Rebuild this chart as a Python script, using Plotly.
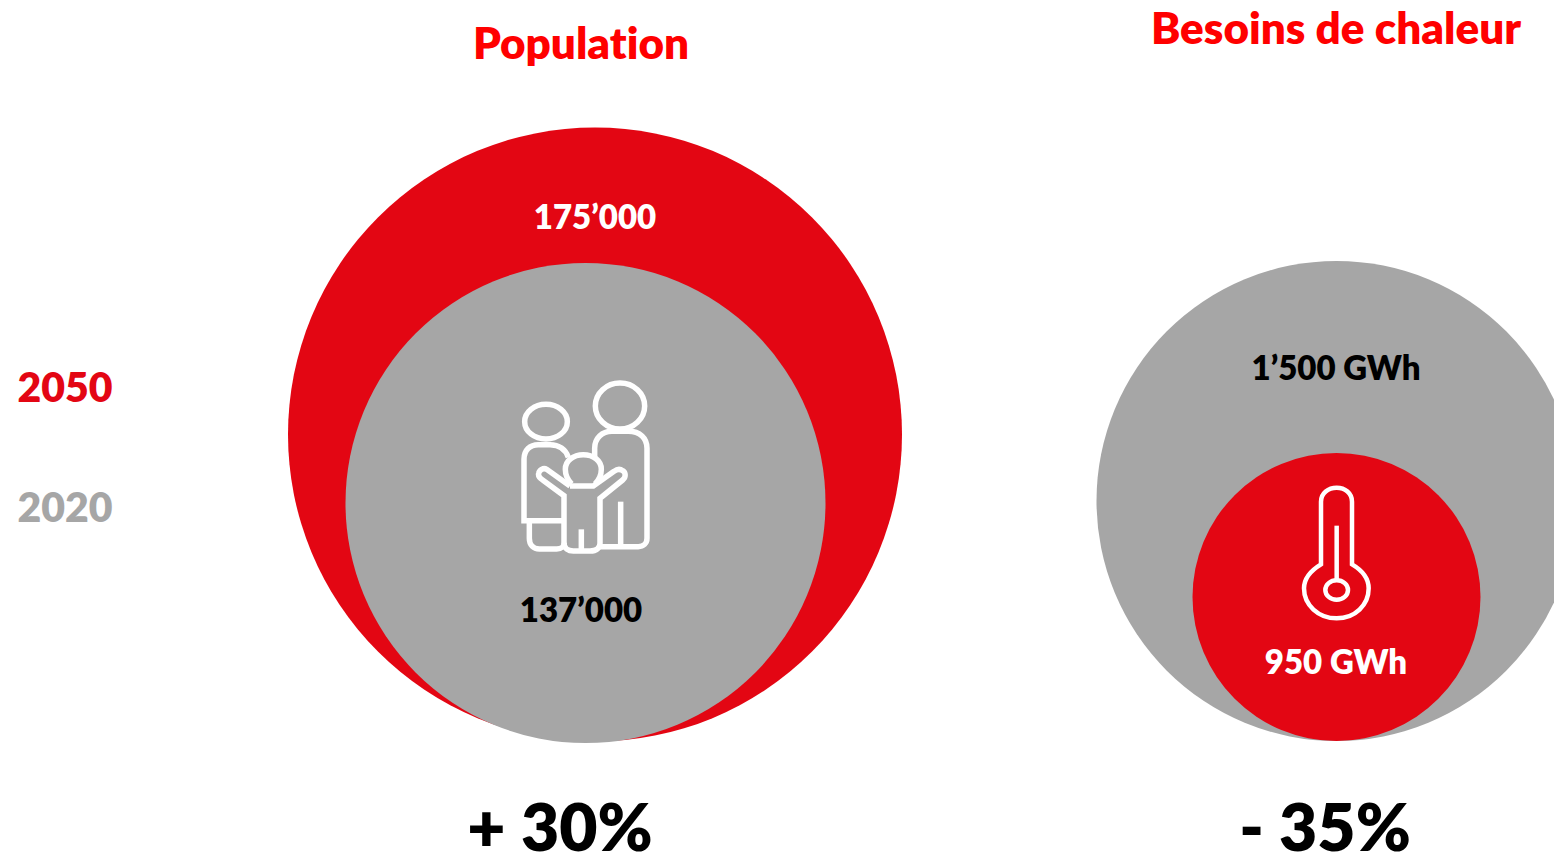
import re
import plotly.graph_objects as go

RED = "#e30613"
GRAY = "#a6a6a6"
TITLE_RED = "#ff0000"
FONT = "Lato"

# Circles: centres and diameters
circle_labels = ["Population 2050", "Population 2020", "Chaleur 2020", "Chaleur 2050"]
circle_x = [595, 585.5, 1336.5, 1336.5]
circle_y = [434.5, 503, 501, 597]
circle_diam = [614, 480, 480, 288]
circle_col = [RED, GRAY, GRAY, RED]

# Text groups
title_text = ["Population", "Besoins de chaleur"]
title_x = [581, 1336]
title_y = [48, 33]
year_text = ["2050", "2020"]
year_x = [65, 65]
year_y = [392, 512]
year_col = [RED, GRAY]
white_text = ["175’000", "950 GWh"]
white_x = [595, 1336]
white_y = [221, 666]
black_text = ["137’000", "1’500 GWh"]
black_x = [581, 1336]
black_y = [614, 372]
delta_text = ["+ 30%", "- 35%"]
delta_x = [560, 1325]
delta_y = [834, 834]

fig = go.Figure()
fig.add_trace(go.Scatter(x=circle_x, y=circle_y, mode="markers", text=circle_labels,
                         marker=dict(size=circle_diam, color=circle_col, opacity=1, line=dict(width=0)),
                         hoverinfo="text", cliponaxis=True))


def txt(x, y, t, size, color):
    fig.add_trace(go.Scatter(x=x, y=y, text=t, mode="text", textposition="middle center",
                             textfont=dict(family=FONT, size=size, color=color, weight=800),
                             hoverinfo="skip"))


txt(title_x, title_y, title_text, 44, TITLE_RED)
txt(year_x, year_y, year_text, 41, year_col)
txt(white_x, white_y, white_text, 33, "#ffffff")
txt(black_x, black_y, black_text, 33, "#000000")
txt(delta_x, delta_y, delta_text, 66, "#000000")


def icon(path, ox, oy, width=5.5):
    """Icon outline given in 3x crop coordinates, placed at offset (ox, oy)."""
    toks = re.findall(r"[MLCQZ]|-?\d+\.?\d*", path)
    out, isx = [], True
    for tk in toks:
        if tk.isalpha():
            out.append(tk)
            isx = True
        else:
            v = float(tk) / 3 + (ox if isx else oy)
            out.append(f"{v:.2f}")
            isx = not isx
    fig.add_shape(type="path", path=" ".join(out), xref="x", yref="y",
                  line=dict(color="#ffffff", width=width), layer="above")


def ell(cx, cy, rx, ry):
    k = 0.5523
    return (f"M {cx-rx} {cy} C {cx-rx} {cy-k*ry} {cx-k*rx} {cy-ry} {cx} {cy-ry} "
            f"C {cx+k*rx} {cy-ry} {cx+rx} {cy-k*ry} {cx+rx} {cy} "
            f"C {cx+rx} {cy+k*ry} {cx+k*rx} {cy+ry} {cx} {cy+ry} "
            f"C {cx-k*rx} {cy+ry} {cx-rx} {cy+k*ry} {cx-rx} {cy} Z")


# Family icon
FO = (500, 370)
icon(ell(360, 108, 74, 69), *FO)
icon(ell(138, 155, 64, 52), *FO)
# adult right body
icon("M 284 262 L 284 235 C 284 205 306 184 336 184 L 385 184 C 420 184 441 205 441 235 "
     "L 441 505 C 441 520 430 530 415 530 L 300 530", *FO)
icon("M 362 395 L 362 530", *FO)
# adult left body
icon("M 205 262 C 197 238 177 224 150 224 L 115 224 C 90 224 72 240 72 268 L 72 452 L 190 452", *FO)
icon("M 88 452 L 88 505 C 88 525 100 537 118 537 L 170 537 C 185 537 193 528 193 518", *FO)
# child
icon("M 215 342 C 203 330 196 315 196 298 C 196 272 220 254 250 254 C 280 254 304 272 304 298 "
     "C 304 315 297 330 285 342", *FO)
icon("M 210 348 L 140 298 C 130 292 118 300 116 310 C 114 318 120 325 128 330 L 192 377 "
     "L 192 520 C 192 535 205 543 220 543 L 270 543 C 290 543 300 533 300 520 L 300 385 "
     "L 368 330 C 378 322 378 308 368 302 C 360 296 350 298 342 304 L 280 348 L 210 348", *FO)
icon("M 244 478 L 244 543", *FO)

# Thermometer icon
TO = (1280, 475)
icon("M 123 268 L 123 80 C 123 55 145 38 170 38 C 195 38 216 55 216 80 L 216 268 "
     "C 245 285 266 310 266 340 C 266 390 225 430 170 430 C 115 430 72 390 72 340 "
     "C 72 310 95 285 123 268 Z", *TO, width=4.5)
icon(ell(170, 345, 34, 29), *TO, width=4.5)
icon("M 170 152 L 170 317", *TO, width=4.5)

fig.update_layout(
    width=1554, height=853, margin=dict(l=0, r=0, t=0, b=0),
    paper_bgcolor="#ffffff", plot_bgcolor="#ffffff", showlegend=False,
    xaxis=dict(range=[0, 1554], visible=False, fixedrange=True),
    yaxis=dict(range=[853, 0], visible=False, fixedrange=True),
)
post = ("document.body.style.margin='0';"
        "var s=document.createElement('style');"
        "s.textContent='text{font-variant-ligatures:none !important;"
        "font-feature-settings:\"liga\" 0,\"clig\" 0 !important;}';"
        "document.head.appendChild(s);")
fig.write_html("out.html", post_script=post, config=dict(displayModeBar=False))
